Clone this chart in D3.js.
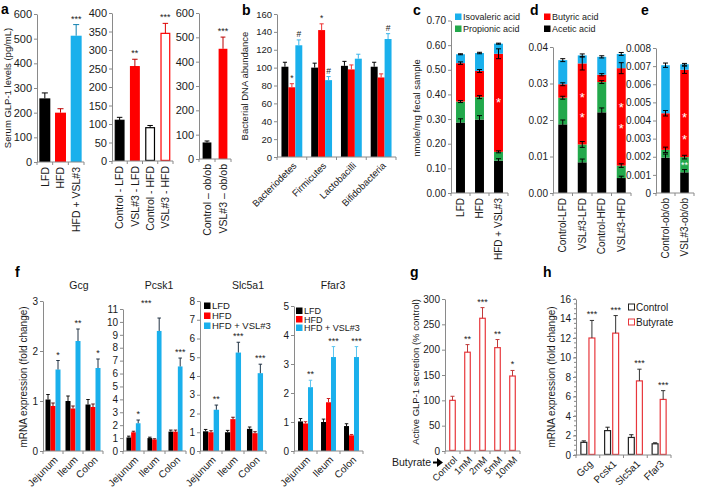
<!DOCTYPE html>
<html><head><meta charset="utf-8">
<script src="https://cdn.jsdelivr.net/npm/d3@7"></script>
<style>body{margin:0;background:#fff;}</style></head>
<body><svg id="chart" width="713" height="489"></svg>
<script>
// ---------- DATA ----------
// panel a
const a1Cats = ["LFD", "HFD", "HFD + VSL#3"];
const a1Vals = [258, 200, 512];
const a1Errs = [22, 16, 45];
const a1Stars = ["", "", "***"];
const a1Ticks = [0, 100, 200, 300, 400, 500, 600];
const a2Cats = ["Control - LFD", "VSL#3 - LFD", "Control - HFD", "VSL#3 - HFD"];
const a2Vals = [110, 255, 90, 345];
const a2Errs = [8, 20, 6, 27];
const a2Stars = ["", "**", "", "***"];
const a2Ticks = [0, 50, 100, 150, 200, 250, 300, 350, 400];
const a3Cats = ["Control – ob/ob", "VSL#3  – ob/ob"];
const a3Vals = [68, 453];
const a3Errs = [6, 48];
const a3Stars = ["", "***"];
const a3Ticks = [0, 100, 200, 300, 400, 500, 600];
// panel b
const bCats = ["Bacteriodetes", "Firmicutes", "Lactobacilli", "Bifidobacteria"];
const dietGroups = ["LFD", "HFD", "HFD + VSL#3"];
const bVals = [[101, 78, 125], [100, 142, 86], [102, 98, 110], [101, 89, 132]];
const bErrs = [[5, 4, 6], [5, 7, 4], [5, 5, 5], [5, 4, 6]];
const bMarks = [["", "*", "#"], ["", "*", "#"], ["", "", ""], ["", "", "#"]];
const bTicks = [0, 20, 40, 60, 80, 100, 120, 140, 160];
// panels c, d, e (segments, bottom to top)
const acidKeys = ["Acetic acid", "Propionic acid", "Butyric acid", "Isovaleric acid"];
const cCats = ["LFD", "HFD", "HFD + VSL#3"];
const cAcetic = [0.286, 0.298, 0.131];
const cPropionic = [0.085, 0.091, 0.036];
const cButyric = [0.156, 0.106, 0.398];
const cIsovaleric = [0.036, 0.073, 0.041];
const cErrs = [[0.015, 0.004, 0.005, 0.002], [0.016, 0.006, 0.006, 0.003], [0.008, 0.004, 0.02, 0.002]];
const cStars = [[], [], [0.37]];
const cTicks = [0, 0.1, 0.2, 0.3, 0.4, 0.5, 0.6, 0.7];
const dCats = ["Control-LFD", "VSL#3-LFD", "Control-HFD", "VSL#3-HFD"];
const dAcetic = [0.0188, 0.0084, 0.0221, 0.0041];
const dPropionic = [0.0073, 0.0049, 0.0083, 0.0034];
const dButyric = [0.0037, 0.0222, 0.0020, 0.0267];
const dIsovaleric = [0.0066, 0.0022, 0.0049, 0.0039];
const dErrs = [[0.0012, 0.0004, 0.0004, 0.0004], [0.0009, 0.0008, 0.0018, 0.0004], [0.0012, 0.0004, 0.0003, 0.0003], [0.0005, 0.0005, 0.0015, 0.0004]];
const dStars = [[], [0.0263, 0.0208], [], [0.0235, 0.0178]];
const dTicks = [0, 0.01, 0.02, 0.03, 0.04];
const eCats = ["Control-ob/ob", "VSL#3-ob/ob"];
const eAcetic = [0.00195, 0.00114];
const ePropionic = [0.00043, 0.00084];
const eButyric = [0.00202, 0.00482];
const eIsovaleric = [0.00265, 0.0003];
const eErrs = [[0.0002, 0.00015, 0.00015, 0.00012], [0.00015, 0.0001, 0.0002, 0.00005]];
const eStars = [[], [0.0042, 0.0030]];
const eGreenStars = [[], [0.0016]];
const eTicks = [0, 0.001, 0.002, 0.003, 0.004, 0.005, 0.006, 0.007, 0.008];
// panel f
const fRegions = ["Jejunum", "Ileum", "Colon"];
const gcgVals = [[1.03, 0.90, 1.63], [1.00, 0.85, 2.20], [0.93, 0.88, 1.66]];
const gcgErrs = [[0.10, 0.06, 0.18], [0.10, 0.05, 0.24], [0.10, 0.06, 0.18]];
const gcgStars = ["*", "**", "*"];
const pcsk1Vals = [[1.05, 1.45, 2.15], [1.00, 0.90, 9.30], [1.50, 1.50, 6.55]];
const pcsk1Errs = [[0.10, 0.08, 0.25], [0.07, 0.05, 1.00], [0.12, 0.12, 0.65]];
const pcsk1Stars = ["*", "***", "***"];
const slc5a1Vals = [[1.05, 1.00, 2.20], [1.00, 1.70, 5.25], [1.18, 0.95, 4.15]];
const slc5a1Errs = [[0.10, 0.08, 0.25], [0.10, 0.10, 0.55], [0.10, 0.08, 0.48]];
const slc5a1Stars = ["**", "***", "***"];
const ffar3Vals = [[1.02, 0.95, 2.20], [1.00, 1.68, 3.24], [0.86, 0.54, 3.24]];
const ffar3Errs = [[0.10, 0.06, 0.24], [0.10, 0.13, 0.36], [0.08, 0.03, 0.36]];
const ffar3Stars = ["**", "***", "***"];
// panel g
const gCats = ["Control", "1mM", "2mM", "5mM", "10mM"];
const gVals = [100, 195, 262, 204, 148];
const gErrs = [8, 15, 21, 16, 11];
const gStars = ["", "**", "***", "**", "*"];
const gTicks = [0, 50, 100, 150, 200, 250, 300];
// panel h
const hGenes = ["Gcg", "Pcsk1", "Slc5a1", "Ffar3"];
const hTreat = ["Control", "Butyrate"];
const hVals = [[1.3, 12.0], [2.5, 12.5], [1.8, 7.6], [1.15, 5.7]];
const hErrs = [[0.15, 1.8], [0.35, 1.8], [0.28, 1.2], [0.1, 0.9]];
const hStars = ["***", "***", "***", "***"];
const hTicks = [0, 2, 4, 6, 8, 10, 12, 14, 16];

// ---------- STYLE ----------
const FONT = "'Liberation Sans', Arial, Helvetica, sans-serif";
const BLACK = "#000000", RED = "#ff0000", BLUE = "#1ab0ec", GREEN = "#22a84b", LRED = "#e8373c";
const AX = "#8a8a8a", TXT = "#1a1a1a";
const dietColors = [BLACK, RED, BLUE];
const acidColors = [BLACK, GREEN, RED, BLUE];

const svg = d3.select("#chart").attr("font-family", FONT);

function band(domain, x0, x1, pi) {
  return d3.scaleBand().domain(domain).range([x0, x1]).paddingInner(pi).paddingOuter(pi / 2);
}
function yAxis(x, y, ticks, fmt, fs) {
  const g = svg.append("g").attr("transform", `translate(${x},0)`)
    .call(d3.axisLeft(y).tickValues(ticks).tickFormat(fmt).tickSize(3).tickSizeOuter(0).tickPadding(2));
  g.attr("font-family", FONT).attr("font-size", fs);
  g.select(".domain").attr("stroke", AX);
  g.selectAll(".tick line").attr("stroke", AX);
  g.selectAll(".tick text").attr("fill", TXT);
  return g;
}
function minorTicks(x, y, vals) {
  svg.append("g").selectAll("line").data(vals).join("line")
    .attr("x1", x - 2).attr("x2", x).attr("y1", d => y(d)).attr("y2", d => y(d)).attr("stroke", AX);
}
function xAxis(xs, yB) {
  const [a, b] = xs.range();
  const n = xs.domain().length, step = (b - a) / n;
  svg.append("line").attr("x1", a).attr("x2", b).attr("y1", yB).attr("y2", yB).attr("stroke", AX);
  svg.append("g").selectAll("line").data(d3.range(n + 1)).join("line")
    .attr("x1", k => a + k * step).attr("x2", k => a + k * step)
    .attr("y1", yB).attr("y2", yB + 3).attr("stroke", AX);
}
function xLabelsV(xs, yB, fs) {
  svg.append("g").attr("font-size", fs).attr("fill", TXT)
    .selectAll("text").data(xs.domain()).join("text")
    .attr("transform", d => `translate(${xs(d) + xs.bandwidth() / 2},${yB + 5}) rotate(-90)`)
    .attr("text-anchor", "end").attr("dy", "0.35em").text(d => d);
}
function xLabels45(xs, yB, fs) {
  svg.append("g").attr("font-size", fs).attr("fill", TXT)
    .selectAll("text").data(xs.domain()).join("text")
    .attr("transform", d => `translate(${xs(d) + xs.bandwidth() / 2 + 3},${yB + 7}) rotate(-45)`)
    .attr("text-anchor", "end").attr("dy", "0.35em").text(d => d);
}
function yLabel(text, x, yc, fs) {
  svg.append("text").attr("transform", `translate(${x},${yc}) rotate(-90)`)
    .attr("text-anchor", "middle").attr("dy", "0.35em").attr("font-size", fs).attr("fill", TXT).text(text);
}
function letter(t, x, y) {
  svg.append("text").attr("x", x).attr("y", y).attr("font-size", 14).attr("font-weight", "bold").attr("fill", "#000").text(t);
}
function errBar(g, cx, yTop, yErr, capW, color, both, yLow) {
  g.append("line").attr("x1", cx).attr("x2", cx).attr("y1", both ? yLow : yTop).attr("y2", yErr).attr("stroke", color).attr("stroke-width", 1);
  g.append("line").attr("x1", cx - capW / 2).attr("x2", cx + capW / 2).attr("y1", yErr).attr("y2", yErr).attr("stroke", color).attr("stroke-width", 1);
  if (both) g.append("line").attr("x1", cx - capW / 2).attr("x2", cx + capW / 2).attr("y1", yLow).attr("y2", yLow).attr("stroke", color).attr("stroke-width", 1);
}
function star(t, x, y, fs, color) {
  svg.append("text").attr("x", x).attr("y", y).attr("text-anchor", "middle").attr("font-size", fs || 9).attr("fill", color || TXT).text(t);
}

// simple bar panel
function simplePanel(o) {
  const y = d3.scaleLinear().domain([0, o.max]).range([o.yB, o.yT]);
  const x = band(o.cats, o.x0, o.x1, o.pi);
  const g = svg.append("g");
  o.cats.forEach((c, i) => {
    const bx = x(c), bw = x.bandwidth(), v = o.vals[i];
    const sw = o.strokes ? 1.2 : 0;
    g.append("rect").attr("x", bx + sw / 2).attr("y", y(v)).attr("width", bw - sw).attr("height", o.yB - y(v) - sw / 2)
      .attr("fill", o.fills[i]).attr("stroke", o.strokes ? o.strokes[i] : "none").attr("stroke-width", sw);
    errBar(g, bx + bw / 2, y(v), y(v + o.errs[i]), Math.max(4, bw * 0.55), o.errColors[i]);
    if (o.stars[i]) star(o.stars[i], bx + bw / 2, y(v + o.errs[i]) - 3, o.starFs || 9);
  });
  yAxis(o.x0, y, o.ticks, o.fmt || (d => d), o.tickFs || 10);
  xAxis(x, o.yB);
  return { x, y };
}

// grouped bar panel
function groupedPanel(o) {
  const y = d3.scaleLinear().domain([0, o.max]).range([o.yB, o.yT]);
  const x0 = band(o.cats, o.x0, o.x1, o.pi);
  const x1 = d3.scaleBand().domain(o.groups).range([0, x0.bandwidth()]).paddingInner(o.innerPad || 0);
  const g = svg.append("g");
  o.cats.forEach((c, i) => {
    o.groups.forEach((gr, j) => {
      const bx = x0(c) + x1(gr), bw = x1.bandwidth(), v = o.vals[i][j];
      const sw = o.strokes ? 1.2 : 0;
      g.append("rect").attr("x", bx + sw / 2).attr("y", y(v)).attr("width", bw - sw).attr("height", o.yB - y(v) - sw / 2)
        .attr("fill", o.fills[j]).attr("stroke", o.strokes ? o.strokes[j] : "none").attr("stroke-width", sw);
      errBar(g, bx + bw / 2, y(v), y(v + o.errs[i][j]), Math.max(3.5, bw * 0.6), o.errColors[j]);
      if (o.marks && o.marks[i][j]) star(o.marks[i][j], bx + bw / 2, y(v + o.errs[i][j]) - 3, 8.5);
    });
    if (o.stars && o.stars[i]) {
      const last = o.groups.length - 1;
      const bx = x0(c) + x1(o.groups[last]) + x1.bandwidth() / 2;
      const top = y(o.vals[i][last] + o.errs[i][last]) - 3;
      const nd = (o.starNudge && o.starNudge[i]) || [0, 0];
      star(o.stars[i], bx + nd[0], top + nd[1], 9);
    }
  });
  yAxis(o.x0, y, o.ticks, o.fmt || (d => d), o.tickFs || 10);
  xAxis(x0, o.yB);
  return { x0, y };
}

// stacked panel
function stackedPanel(o) {
  const y = d3.scaleLinear().domain([0, o.max]).range([o.yB, o.yT]);
  const x = band(o.cats, o.x0, o.x1, o.pi);
  const rows = o.cats.map((c, i) => {
    const r = { cat: c };
    acidKeys.forEach((k, j) => r[k] = o.series[j][i]);
    return r;
  });
  const stacked = d3.stack().keys(acidKeys)(rows);
  const g = svg.append("g");
  stacked.forEach((s, j) => {
    g.append("g").attr("fill", acidColors[j]).selectAll("rect").data(s).join("rect")
      .attr("x", d => x(d.data.cat)).attr("width", x.bandwidth())
      .attr("y", d => y(d[1])).attr("height", d => y(d[0]) - y(d[1]));
  });
  stacked.forEach((s, j) => {
    s.forEach((d, i) => {
      const cx = x(d.data.cat) + x.bandwidth() / 2, e = o.errs[i][j];
      errBar(g, cx, y(d[1]), y(d[1] + e), 5, "#000", true, y(d[1] - e));
    });
  });
  o.cats.forEach((c, i) => {
    const cx = x(c) + x.bandwidth() / 2;
    (o.stars[i] || []).forEach(v => star("*", cx, y(v) + 5, 13, "#fff"));
    if (o.greenStars) (o.greenStars[i] || []).forEach(v => star("**", cx, y(v) + 4, 9, "#fff"));
  });
  yAxis(o.x0, y, o.ticks, o.fmt, o.tickFs || 10);
  xAxis(x, o.yB);
  return { x, y };
}
function legend(items, x, ys, fs, hollow) {
  const g = svg.append("g").attr("font-size", fs).attr("fill", TXT);
  items.forEach((it, i) => {
    if (hollow) g.append("rect").attr("x", x + 0.5).attr("y", ys[i] - 3).attr("width", 6).attr("height", 6)
      .attr("fill", "#fff").attr("stroke", it.color).attr("stroke-width", 1);
    else g.append("rect").attr("x", x).attr("y", ys[i] - 3.5).attr("width", 6.5).attr("height", 6.5).attr("fill", it.color);
    g.append("text").attr("x", x + 8).attr("y", ys[i]).attr("dy", "0.35em").text(it.label);
  });
}

// ---------- PANEL a ----------
letter("a", 1, 14);
yLabel("Serum GLP-1 levels (pg/mL)", 8, 88, 9.5);
let p = simplePanel({ cats: a1Cats, vals: a1Vals, errs: a1Errs, stars: a1Stars, max: 600, ticks: a1Ticks,
  x0: 37, x1: 84, pi: 0.3, yB: 162, yT: 14, fills: [BLACK, RED, BLUE], errColors: ["#000", "#b00", "#0f80b0"], tickFs: 11 });
xLabelsV(p.x, 162, 10.5);
p = simplePanel({ cats: a2Cats, vals: a2Vals, errs: a2Errs, stars: a2Stars, max: 400, ticks: a2Ticks,
  x0: 112, x1: 173, pi: 0.35, yB: 161, yT: 13, fills: [BLACK, RED, "#fff", "#fff"], strokes: [BLACK, RED, BLACK, RED],
  errColors: ["#000", "#b00", "#000", "#d00"], tickFs: 11 });
xLabelsV(p.x, 161, 10.5);
p = simplePanel({ cats: a3Cats, vals: a3Vals, errs: a3Errs, stars: a3Stars, max: 600, ticks: a3Ticks,
  x0: 199, x1: 231, pi: 0.45, yB: 159, yT: 13, fills: [BLACK, RED], errColors: ["#000", "#b00"], tickFs: 11 });
xLabelsV(p.x, 159, 10.5);

// ---------- PANEL b ----------
letter("b", 242, 15);
yLabel("Bacterial DNA abundance", 245, 86, 9.5);
p = groupedPanel({ cats: bCats, groups: dietGroups, vals: bVals, errs: bErrs, marks: bMarks, max: 160, ticks: bTicks,
  x0: 277, x1: 396, pi: 0.3, yB: 157, yT: 14, fills: dietColors, errColors: ["#000", "#e33", "#3ab5ea"], tickFs: 9.5 });
xLabels45(p.x0, 157, 9.5);

// ---------- PANEL c ----------
letter("c", 413, 15);
yLabel("nmole/mg fecal sample", 417, 108, 9.5);
p = stackedPanel({ cats: cCats, series: [cAcetic, cPropionic, cButyric, cIsovaleric], errs: cErrs, stars: cStars,
  max: 0.7, ticks: cTicks, fmt: d3.format(".2f"), x0: 451, x1: 508, pi: 0.53, yB: 193, yT: 20.5 });
xLabelsV(p.x, 193, 10);
legend([{ label: "Isovaleric acid", color: BLUE }, { label: "Propionic acid", color: GREEN }], 455, [17, 29], 9);

// ---------- PANEL d ----------
letter("d", 530, 15);
p = stackedPanel({ cats: dCats, series: [dAcetic, dPropionic, dButyric, dIsovaleric], errs: dErrs, stars: dStars,
  max: 0.04, ticks: dTicks, fmt: d3.format(".2f"), x0: 553, x1: 631, pi: 0.54, yB: 193, yT: 47 });
xLabelsV(p.x, 193, 10);
legend([{ label: "Butyric acid", color: RED }, { label: "Acetic acid", color: BLACK }], 544, [17, 29], 9);

// ---------- PANEL e ----------
letter("e", 641, 15);
p = stackedPanel({ cats: eCats, series: [eAcetic, ePropionic, eButyric, eIsovaleric], errs: eErrs, stars: eStars,
  greenStars: eGreenStars, max: 0.008, ticks: eTicks, fmt: d => d === 0 ? "0" : d3.format(".3f")(d),
  x0: 656, x1: 694, pi: 0.55, yB: 193, yT: 48 });
xLabelsV(p.x, 193, 10);

// ---------- PANEL f ----------
letter("f", 15, 277);
yLabel("mRNA expression (fold change)", 23, 377, 10);
const fTitles = [["Gcg", 79], ["Pcsk1", 159], ["Slc5a1", 248], ["Ffar3", 333]];
fTitles.forEach(t => svg.append("text").attr("x", t[1]).attr("y", 289).attr("text-anchor", "middle")
  .attr("font-size", 10.5).attr("fill", TXT).text(t[0]));
const fErrCol = ["#111", "#611", "#234"];
p = groupedPanel({ cats: fRegions, groups: dietGroups, vals: gcgVals, errs: gcgErrs, stars: gcgStars, max: 3, ticks: [0, 1, 2, 3],
  x0: 43, x1: 103, pi: 0.25, yB: 451, yT: 301, fills: dietColors, errColors: fErrCol });
xLabels45(p.x0, 451, 10);
p = groupedPanel({ cats: fRegions, groups: dietGroups, vals: pcsk1Vals, errs: pcsk1Errs, stars: pcsk1Stars, max: 11,
  ticks: d3.range(0, 12), x0: 123, x1: 186, pi: 0.33, yB: 451, yT: 309, fills: dietColors, errColors: fErrCol,
  starNudge: [[0, 0], [-13, -9], [0, 0]] });
xLabels45(p.x0, 451, 10);
p = groupedPanel({ cats: fRegions, groups: dietGroups, vals: slc5a1Vals, errs: slc5a1Errs, stars: slc5a1Stars, max: 8,
  ticks: d3.range(0, 9), x0: 200, x1: 266, pi: 0.27, yB: 451, yT: 301, fills: dietColors, errColors: fErrCol });
xLabels45(p.x0, 451, 10);
legend(dietGroups.map((d, i) => ({ label: d, color: dietColors[i] })), 204, [306, 316, 326], 9.5);
p = groupedPanel({ cats: fRegions, groups: dietGroups, vals: ffar3Vals, errs: ffar3Errs, stars: ffar3Stars, max: 5,
  ticks: d3.range(0, 6), x0: 294, x1: 363, pi: 0.35, yB: 451, yT: 306, fills: dietColors, errColors: ["#111", "#c22", "#5bc4ef"] });
xLabels45(p.x0, 451, 10);
legend(dietGroups.map((d, i) => ({ label: d, color: dietColors[i] })), 296, [311, 319.5, 328], 9);

// ---------- PANEL g ----------
letter("g", 410, 277);
yLabel("Active GLP-1 secretion (% control)", 416, 372, 9.5);
p = simplePanel({ cats: gCats, vals: gVals, errs: gErrs, stars: gStars, max: 300, ticks: gTicks,
  x0: 445, x1: 520, pi: 0.55, yB: 451, yT: 299, fills: gCats.map(() => "#fff"), strokes: gCats.map(() => LRED),
  errColors: gCats.map(() => "#c03a3a") });
xLabels45(p.x, 451, 9.5);
svg.append("text").attr("x", 392).attr("y", 466).attr("font-size", 10.5).attr("fill", TXT).text("Butyrate");
svg.append("line").attr("x1", 433).attr("x2", 438).attr("y1", 462.5).attr("y2", 462.5).attr("stroke", "#000").attr("stroke-width", 2);
svg.append("path").attr("d", "M437,458 L443,462.5 L437,467 Z").attr("fill", "#000");

// ---------- PANEL h ----------
letter("h", 543, 277);
yLabel("mRNA expression (fold change)", 551, 377, 10);
minorTicks(576, d3.scaleLinear().domain([0, 16]).range([455, 299]), d3.range(0, 16.01, 0.5));
p = groupedPanel({ cats: hGenes, groups: hTreat, vals: hVals, errs: hErrs, stars: hStars, max: 16, ticks: hTicks,
  x0: 576, x1: 671, pi: 0.36, innerPad: 0.12, yB: 455, yT: 299, fills: ["#fff", "#fff"], strokes: ["#222", LRED],
  errColors: ["#222", "#333"] });
xLabels45(p.x0, 455, 10);
legend([{ label: "Control", color: "#222" }, { label: "Butyrate", color: LRED }], 628, [307, 322], 10, true);
</script></body></html>
